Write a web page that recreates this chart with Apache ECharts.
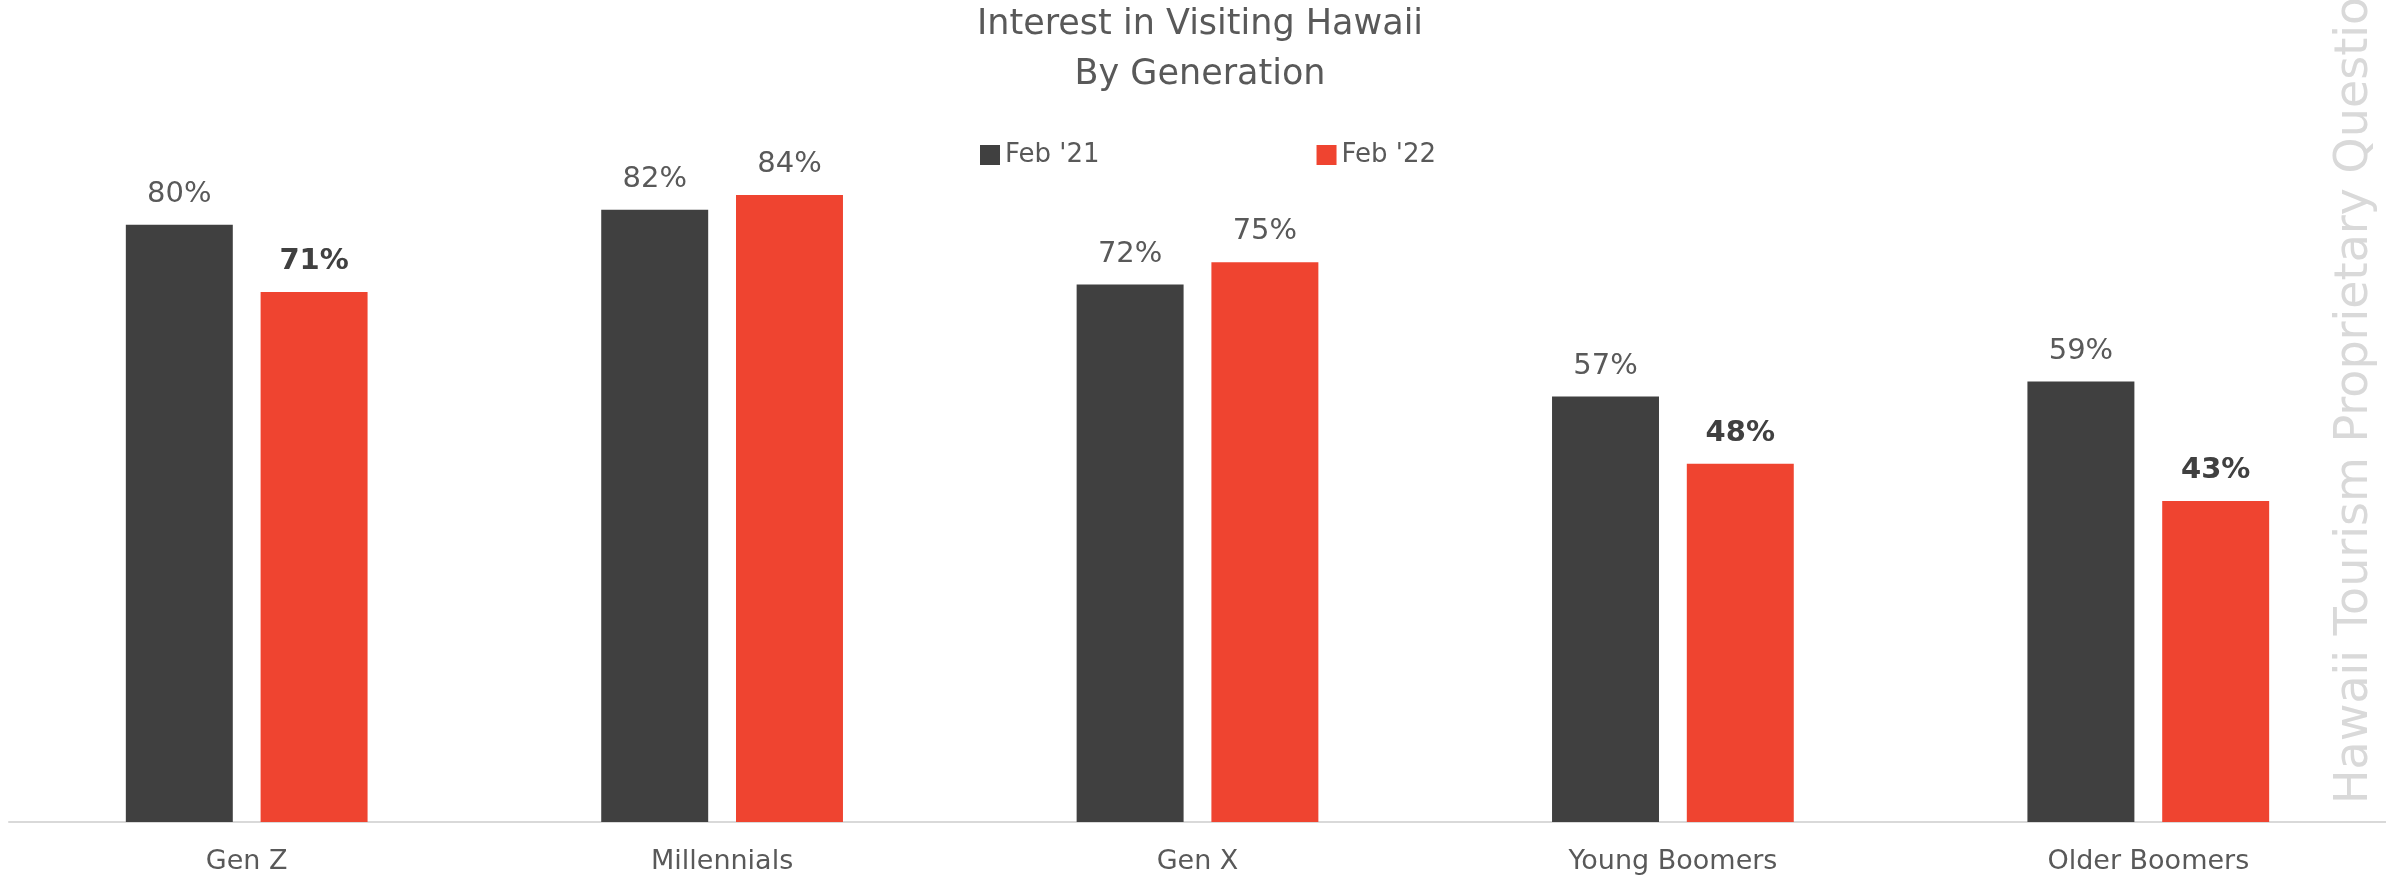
<!DOCTYPE html>
<html>
<head>
<meta charset="utf-8">
<script src="https://cdn.jsdelivr.net/npm/echarts@6/dist/echarts.min.js"></script>
<style>html,body{margin:0;padding:0;background:#fff}#c{width:2386px;height:876px}</style>
</head>
<body>
<div id="c"></div>
<script>
const categories = ['Gen Z', 'Millennials', 'Gen X', 'Young Boomers', 'Older Boomers'];
const seriesNames = ["Feb '21", "Feb '22"];
const feb21 = [80, 82, 72, 57, 59];
const feb22 = [71, 84, 75, 48, 43];
const titleLines = ['Interest in Visiting Hawaii', 'By Generation'];
const sideNote = 'Hawaii Tourism Proprietary Questions';

const FONT = '"DejaVu Sans", "Noto Sans", sans-serif';
const chart = echarts.init(document.getElementById('c'), null, {renderer: 'canvas'});

const data22 = feb22.map((v, i) => ({
  value: v,
  label: { fontWeight: v < feb21[i] ? 'bold' : 'normal', color: v < feb21[i] ? '#404040' : '#595959' }
}));

chart.setOption({
  animation: false,
  backgroundColor: '#ffffff',
  textStyle: { fontFamily: FONT },
  graphic: [
    { type: 'text', x: 1200, y: 25, style: { text: titleLines[0], font: '35px ' + FONT, fill: '#595959', textAlign: 'center', textVerticalAlign: 'middle' } },
    { type: 'text', x: 1200, y: 75, style: { text: titleLines[1], font: '35px ' + FONT, fill: '#595959', textAlign: 'center', textVerticalAlign: 'middle' } },
    { type: 'text', x: 2355, y: 804, rotation: Math.PI / 2, style: { text: sideNote, font: '46px ' + FONT, fill: '#d9d9d9', textAlign: 'left', textVerticalAlign: 'middle' } }
  ],
  legend: {
    left: 975, top: 137,
    itemWidth: 20, itemHeight: 20, itemGap: 217,
    icon: 'rect',
    textStyle: { fontSize: 26, color: '#595959', fontFamily: FONT },
    data: seriesNames
  },
  grid: { left: 9, right: 0, top: 75.5, bottom: 54, containLabel: false },
  xAxis: {
    type: 'category',
    data: categories,
    axisLine: { lineStyle: { color: '#d9d9d9', width: 2 } },
    axisTick: { show: false },
    axisLabel: { fontSize: 27, color: '#595959', margin: 26, fontFamily: FONT }
  },
  yAxis: { type: 'value', min: 0, max: 100, show: false, splitLine: { show: false } },
  series: [
    {
      name: seriesNames[0], type: 'bar', data: feb21,
      barWidth: '22.5%', barGap: '26%',
      itemStyle: { color: '#404040' },
      label: { show: true, position: 'top', distance: 16, formatter: '{c}%', fontSize: 29, color: '#595959', fontFamily: FONT }
    },
    {
      name: seriesNames[1], type: 'bar', data: data22,
      barWidth: '22.5%', barGap: '26%',
      itemStyle: { color: '#EF4430' },
      label: { show: true, position: 'top', distance: 16, formatter: '{c}%', fontSize: 29, color: '#595959', fontFamily: FONT }
    }
  ]
});
</script>
</body>
</html>
